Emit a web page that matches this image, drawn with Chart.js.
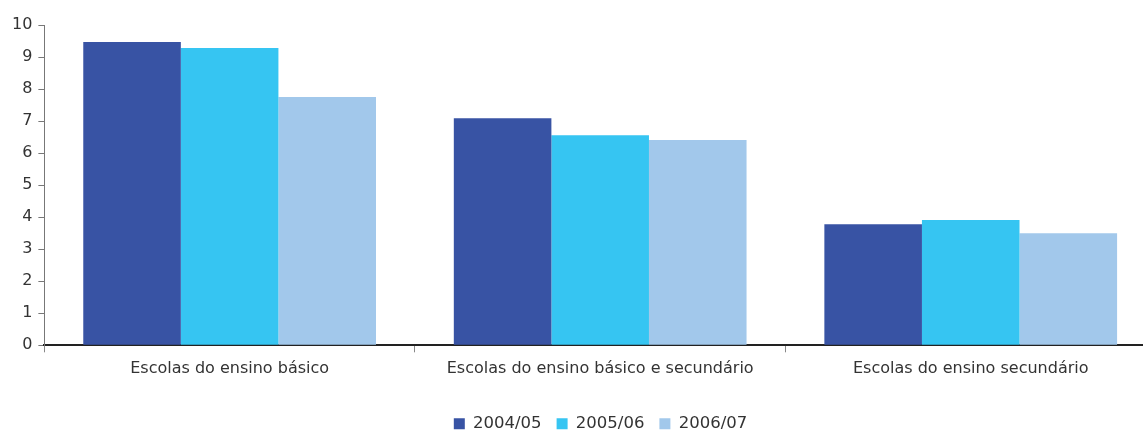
<!DOCTYPE html>
<html>
<head>
<meta charset="utf-8">
<script src="https://cdn.jsdelivr.net/npm/chart.js@4"></script>
<style>
  html, body { margin: 0; padding: 0; background: #fff; overflow: hidden; }
  #wrap { width: 1156px; height: 442px; }
</style>
</head>
<body>
<div id="wrap"><canvas id="grafico"></canvas></div>
<script>
// dados
var categorias = ['Escolas do ensino básico', 'Escolas do ensino básico e secundário', 'Escolas do ensino secundário'];
var anos = ['2004/05', '2005/06', '2006/07'];
var valores2004 = [9.47, 7.09, 3.78];
var valores2005 = [9.28, 6.56, 3.91];
var valores2006 = [7.75, 6.41, 3.50];
var cores = ['#3853a4', '#36c5f2', '#a2c8eb'];

var fonte = { family: 'DejaVu Sans', size: 16 };

// a legenda fica um pouco à direita, como no original
var desviaLegenda = {
    id: 'desviaLegenda',
    afterLayout: function (chart) {
        chart.legend.left = 45;
    }
};

var ctx = document.getElementById('grafico').getContext('2d');
var grafico = new Chart(ctx, {
    type: 'bar',
    data: {
        labels: categorias,
        datasets: [
            { label: anos[0], data: valores2004, backgroundColor: cores[0] },
            { label: anos[1], data: valores2005, backgroundColor: cores[1] },
            { label: anos[2], data: valores2006, backgroundColor: cores[2] }
        ]
    },
    plugins: [desviaLegenda],
    options: {
        responsive: true,
        maintainAspectRatio: false,
        animation: false,
        layout: { padding: { top: 25, right: 0, left: 6, bottom: 0 } },
        datasets: {
            bar: { categoryPercentage: 0.79, barPercentage: 1.0 }
        },
        plugins: {
            tooltip: { enabled: false },
            legend: {
                position: 'bottom',
                labels: {
                    boxWidth: 11,
                    boxHeight: 11,
                    padding: 15,
                    color: '#333',
                    font: { family: 'DejaVu Sans', size: 16.5 }
                }
            }
        },
        scales: {
            x: {
                grid: { display: true, drawOnChartArea: false, offset: true, tickLength: 7, color: '#888' },
                border: { color: '#222', width: 2 },
                ticks: { color: '#333', font: fonte, padding: 7 },
                title: { display: true, text: ' ', font: { size: 10 }, padding: { top: 1, bottom: 2 } }
            },
            y: {
                min: 0,
                max: 10,
                ticks: { stepSize: 1, color: '#333', font: fonte, padding: 6 },
                grid: { display: true, drawOnChartArea: false, tickLength: 6, color: '#777' },
                border: { color: '#777', width: 1 }
            }
        }
    }
});
</script>
</body>
</html>
